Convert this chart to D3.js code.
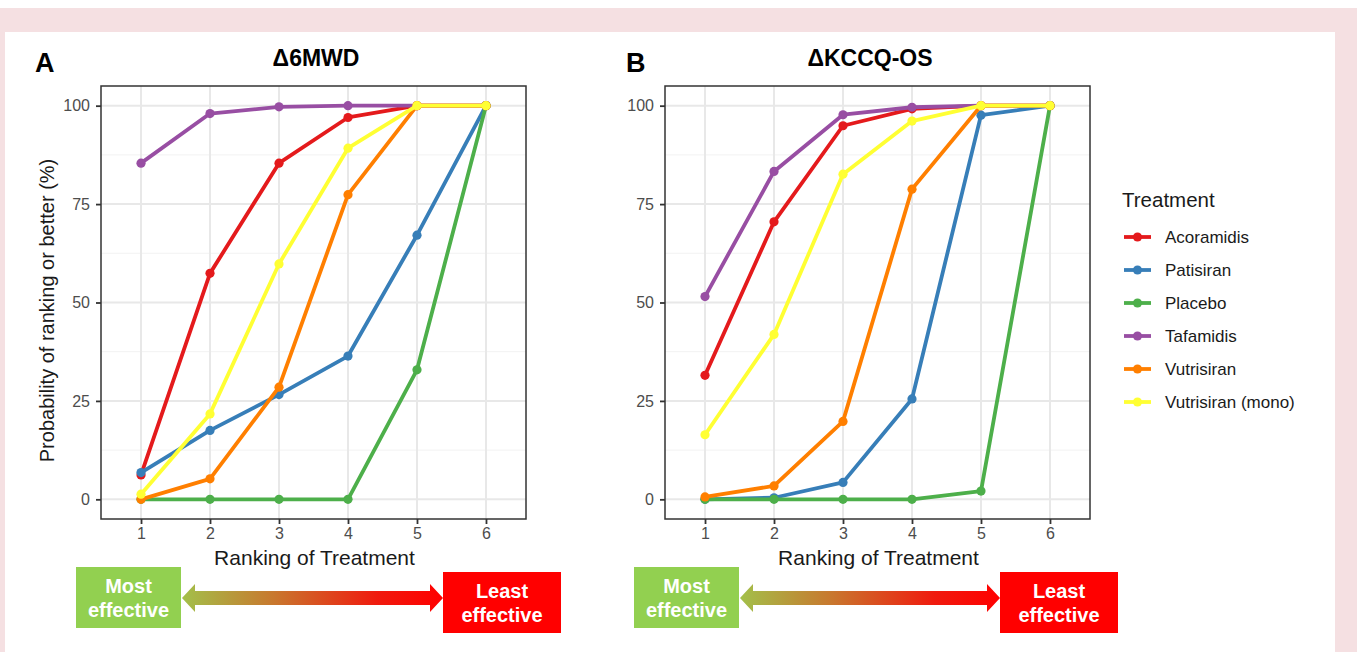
<!DOCTYPE html>
<html>
<head>
<meta charset="utf-8">
<script src="https://cdn.jsdelivr.net/npm/d3@7"></script>
<style>
  body { margin: 0; background: #fff; }
  svg text { font-family: "Liberation Sans", Arial, sans-serif; }
</style>
</head>
<body>
<svg id="chart" width="1357" height="652"></svg>
<script>
// treatments in legend / draw order
let treatments = ['Acoramidis', 'Patisiran', 'Placebo', 'Tafamidis', 'Vutrisiran', 'Vutrisiran (mono)']
let colors = ['#E41A1C', '#377EB8', '#4DAF4A', '#984EA3', '#FF7F00', '#FFFF33']
let ranks = [1, 2, 3, 4, 5, 6]
let yTicks = [0, 25, 50, 75, 100]

// panel A : delta 6MWD, cumulative probability per rank
let acoramidisA = [6.2, 57.4, 85.4, 97.0, 100, 100]
let patisiranA = [6.8, 17.5, 26.6, 36.4, 67.1, 100]
let placeboA = [0, 0, 0, 0, 32.9, 100]
let tafamidisA = [85.4, 98.0, 99.7, 100, 100, 100]
let vutrisiranA = [0, 5.2, 28.5, 77.4, 100, 100]
let vutrisiranMonoA = [1.3, 21.7, 59.8, 89.2, 100, 100]

// panel B : delta KCCQ-OS
let acoramidisB = [31.5, 70.5, 94.9, 99.2, 100, 100]
let patisiranB = [0, 0.4, 4.3, 25.5, 97.6, 100]
let placeboB = [0, 0, 0, 0, 2.1, 100]
let tafamidisB = [51.5, 83.3, 97.7, 99.6, 100, 100]
let vutrisiranB = [0.6, 3.4, 19.8, 78.8, 100, 100]
let vutrisiranMonoB = [16.4, 41.9, 82.6, 96.1, 100, 100]

let svg = d3.select('#chart')

// pink frame
svg.append('rect').attr('x', 0).attr('y', 8).attr('width', 1357).attr('height', 644).attr('fill', '#f5e0e2')
svg.append('rect').attr('x', 5).attr('y', 32).attr('width', 1330).attr('height', 620).attr('fill', '#fff')

let panels = [
	{ letter: 'A', letterX: 35, title: '\u03946MWD', titleX: 316, left: 101, right: 526, series: [acoramidisA, patisiranA, placeboA, tafamidisA, vutrisiranA, vutrisiranMonoA], showYLabel: true },
	{ letter: 'B', letterX: 626, title: '\u0394KCCQ-OS', titleX: 870, left: 665, right: 1090, series: [acoramidisB, patisiranB, placeboB, tafamidisB, vutrisiranB, vutrisiranMonoB], showYLabel: false }
]

let plotTop = 86, plotBottom = 519

let drawPanel = p => {
	let g = svg.append('g')
	let x = d3.scaleLinear().domain([0.42, 6.58]).range([p.left, p.right])
	let y = d3.scaleLinear().domain([-5, 105]).range([plotBottom, plotTop])

	// minor grid
	g.selectAll('.minor').data([12.5, 37.5, 62.5, 87.5]).enter().append('line')
		.attr('x1', p.left).attr('x2', p.right)
		.attr('y1', d => y(d)).attr('y2', d => y(d))
		.attr('stroke', '#f2f2f2').attr('stroke-width', 1)
	// major grid
	g.selectAll('.hmaj').data(yTicks).enter().append('line')
		.attr('x1', p.left).attr('x2', p.right)
		.attr('y1', d => y(d)).attr('y2', d => y(d))
		.attr('stroke', '#e8e8e8').attr('stroke-width', 2)
	g.selectAll('.vmaj').data(ranks).enter().append('line')
		.attr('y1', plotTop).attr('y2', plotBottom)
		.attr('x1', d => x(d)).attr('x2', d => x(d))
		.attr('stroke', '#e8e8e8').attr('stroke-width', 2)

	let line = d3.line().x((d, i) => x(ranks[i])).y(d => y(d))

	p.series.forEach((s, k) => {
		g.append('path').attr('d', line(s))
			.attr('fill', 'none').attr('stroke', colors[k]).attr('stroke-width', 3.8)
			.attr('stroke-linejoin', 'round')
		g.selectAll(null).data(s).enter().append('circle')
			.attr('cx', (d, i) => x(ranks[i])).attr('cy', d => y(d))
			.attr('r', 4.6).attr('fill', colors[k])
	})

	g.append('rect').attr('x', p.left).attr('y', plotTop)
		.attr('width', p.right - p.left).attr('height', plotBottom - plotTop)
		.attr('fill', 'none').attr('stroke', '#333').attr('stroke-width', 1.5)

	let yAxis = g.append('g').attr('transform', `translate(${p.left},0)`)
		.call(d3.axisLeft(y).tickValues(yTicks).tickSize(5).tickPadding(6))
	let xAxis = g.append('g').attr('transform', `translate(0,${plotBottom})`)
		.call(d3.axisBottom(x).tickValues(ranks).tickFormat(d3.format('d')).tickSize(5).tickPadding(4))
	;[yAxis, xAxis].forEach(a => {
		a.select('.domain').remove()
		a.selectAll('.tick line').attr('stroke', '#333').attr('stroke-width', 1.8)
		a.selectAll('.tick text').attr('fill', '#4d4d4d').style('font-size', '16px')
	})

	g.append('text').text(p.letter)
		.attr('x', p.letterX).attr('y', 72)
		.style('font-size', '27px').style('font-weight', 'bold')
	g.append('text').text(p.title)
		.attr('x', p.titleX).attr('y', 66)
		.attr('text-anchor', 'middle')
		.style('font-size', '23px').style('font-weight', 'bold')

	g.append('text').text('Ranking of Treatment')
		.attr('x', (p.left + p.right) / 2 + 1).attr('y', 565)
		.attr('text-anchor', 'middle').attr('fill', '#1a1a1a')
		.style('font-size', '21px')

	if (p.showYLabel) {
		g.append('text').text('Probability of ranking or better (%)')
			.attr('transform', `translate(54,${(plotTop + plotBottom) / 2 + 8}) rotate(-90)`)
			.attr('text-anchor', 'middle').attr('fill', '#1a1a1a')
			.style('font-size', '20px')
	}
}

panels.forEach(drawPanel)

// legend
let legend = svg.append('g').attr('transform', 'translate(1122,0)')
legend.append('text').text('Treatment').attr('x', 0).attr('y', 207)
	.style('font-size', '20.5px').attr('fill', '#1a1a1a')
let items = legend.selectAll('.item').data(treatments).enter().append('g')
	.attr('transform', (d, i) => `translate(0,${237 + i * 33})`)
items.append('line').attr('x1', 2).attr('x2', 29).attr('y1', 0).attr('y2', 0)
	.attr('stroke', (d, i) => colors[i]).attr('stroke-width', 3.8)
items.append('circle').attr('cx', 15.5).attr('cy', 0).attr('r', 4.6).attr('fill', (d, i) => colors[i])
items.append('text').text(d => d).attr('x', 43).attr('y', 6)
	.style('font-size', '17px').attr('fill', '#1a1a1a')

// most / least effective arrows
let defs = svg.append('defs')
let grad = defs.append('linearGradient').attr('id', 'effGrad')
grad.append('stop').attr('offset', '0%').attr('stop-color', '#a3c04a')
grad.append('stop').attr('offset', '35%').attr('stop-color', '#c8782e')
grad.append('stop').attr('offset', '75%').attr('stop-color', '#f01a0e')
grad.append('stop').attr('offset', '100%').attr('stop-color', '#ff0000')

let arrows = [
	{ gx: 76, rx: 443 },
	{ gx: 634, rx: 1000 }
]

arrows.forEach(a => {
	let g = svg.append('g')
	let x0 = a.gx + 106, x1 = a.rx, cy = 598
	let head = 13
	g.append('path')
		.attr('d', `M${x0},${cy} L${x0 + head},${cy - 14} L${x0 + head},${cy - 7} L${x1 - head},${cy - 7} L${x1 - head},${cy - 14} L${x1},${cy} L${x1 - head},${cy + 14} L${x1 - head},${cy + 7} L${x0 + head},${cy + 7} L${x0 + head},${cy + 14} Z`)
		.attr('fill', 'url(#effGrad)')
	g.append('rect').attr('x', a.gx).attr('y', 567).attr('width', 105).attr('height', 61).attr('fill', '#92d050')
	g.append('rect').attr('x', a.rx).attr('y', 572).attr('width', 118).attr('height', 61).attr('fill', '#ff0000')
	let txt = [
		{ x: a.gx + 52.5, y: 593, t: 'Most' },
		{ x: a.gx + 52.5, y: 617, t: 'effective' },
		{ x: a.rx + 59, y: 598, t: 'Least' },
		{ x: a.rx + 59, y: 622, t: 'effective' }
	]
	g.selectAll(null).data(txt).enter().append('text')
		.text(d => d.t).attr('x', d => d.x).attr('y', d => d.y)
		.attr('text-anchor', 'middle').attr('fill', '#fff')
		.style('font-size', '20px').style('font-weight', 'bold')
})
</script>
</body>
</html>
